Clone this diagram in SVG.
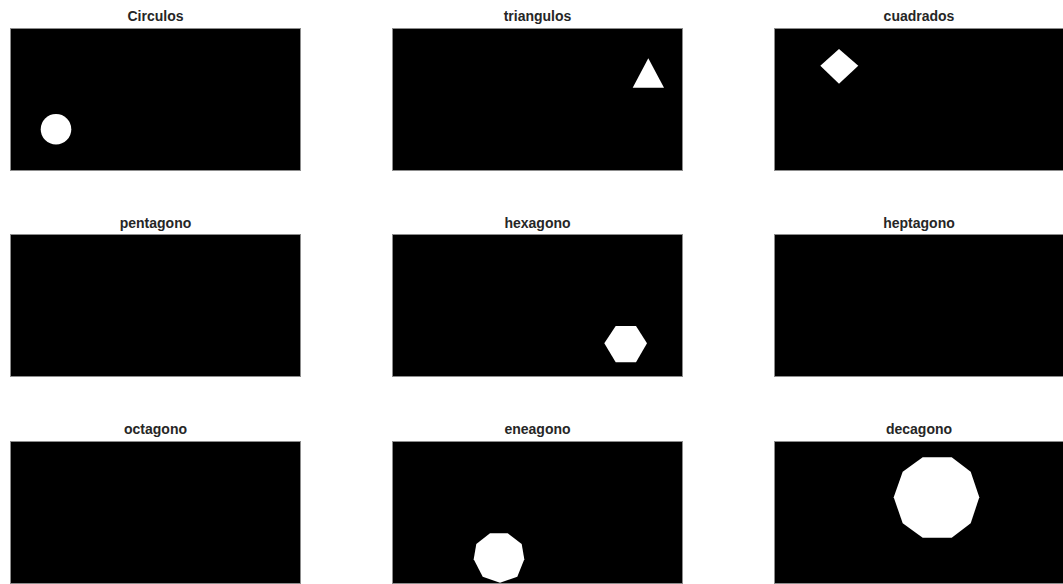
<svg xmlns="http://www.w3.org/2000/svg" width="1063" height="584" viewBox="0 0 1063 584">
<style>
.ax{fill:#000;stroke:#8c8c8c;stroke-width:1}
.t{font-family:"Liberation Sans",Arial,sans-serif;font-weight:bold;font-size:14px;fill:#262626;text-anchor:middle}
.s{fill:#fff}
</style>
<rect width="1063" height="584" fill="#fff"/>
<g id="circulos">
<rect class="ax" x="10.5" y="28.5" width="290" height="142"/>
<text class="t" x="155.5" y="21">Circulos</text>
<circle class="s" cx="56" cy="129.3" r="15.3"/>
</g>
<g id="triangulos">
<rect class="ax" x="392.5" y="28.5" width="290" height="142"/>
<text class="t" x="537.5" y="21">triangulos</text>
<polygon class="s" points="648.3,58.3 664,87.7 632.7,87.7"/>
</g>
<g id="cuadrados">
<rect class="ax" x="774.5" y="28.5" width="290" height="142"/>
<text class="t" x="919" y="21">cuadrados</text>
<polygon class="s" points="839,49 858.3,65.7 839,83.7 820.3,65.7"/>
</g>
<g id="pentagono">
<rect class="ax" x="10.5" y="234.5" width="290" height="142"/>
<text class="t" x="155.5" y="227.5">pentagono</text>
</g>
<g id="hexagono">
<rect class="ax" x="392.5" y="234.5" width="290" height="142"/>
<text class="t" x="537.5" y="227.5">hexagono</text>
<polygon class="s" points="604.3,343.3 615.7,326 636,326 647,343.3 636,362.3 615.7,362.3"/>
</g>
<g id="heptagono">
<rect class="ax" x="774.5" y="234.5" width="290" height="142"/>
<text class="t" x="919" y="227.5">heptagono</text>
</g>
<g id="octagono">
<rect class="ax" x="10.5" y="441.5" width="290" height="142"/>
<text class="t" x="155.5" y="434">octagono</text>
</g>
<g id="eneagono">
<rect class="ax" x="392.5" y="441.5" width="290" height="142"/>
<text class="t" x="537.5" y="434">eneagono</text>
<polygon class="s" points="490,533.3 507.7,533.3 521.7,544 524.3,559.3 517.3,576.7 500,582.7 482.7,576.7 473.7,559.3 476.3,544"/>
</g>
<g id="decagono">
<rect class="ax" x="774.5" y="441.5" width="290" height="142"/>
<text class="t" x="919" y="434">decagono</text>
<polygon class="s" points="922.7,457.3 951.7,457.3 970.7,471.7 979.3,497.3 970.7,523.3 951.7,537.7 922.7,537.7 902.7,523.3 893.7,497.3 902.7,471.7"/>
</g>
<g id="connectors"/>
</svg>
